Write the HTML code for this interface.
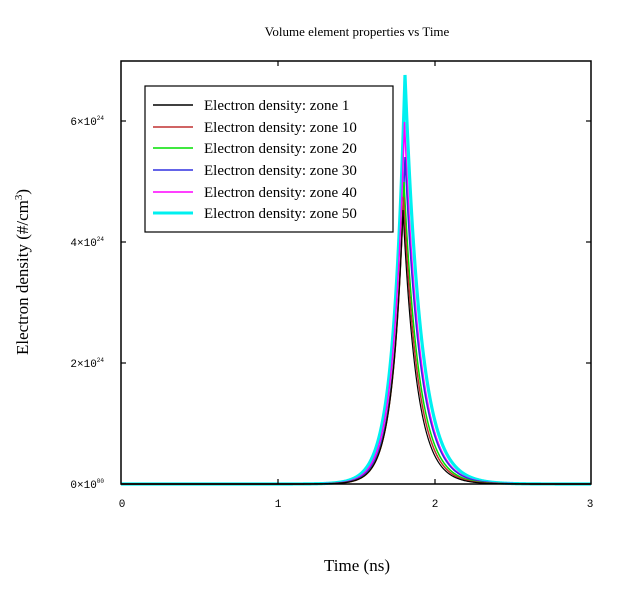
<!DOCTYPE html>
<html><head><style>
body{margin:0;background:#fff;}
svg{display:block;}
.t{font-family:"Liberation Serif",serif;}
.m{font-family:"Liberation Mono",monospace;font-size:11px;}
</style></head><body>
<svg id="s" width="644" height="599" xmlns="http://www.w3.org/2000/svg">
<rect width="644" height="599" fill="#fff"/>
<text class="t" x="357" y="36" font-size="13" text-anchor="middle">Volume element properties vs Time</text>
<text class="t" x="357" y="571" font-size="17" text-anchor="middle">Time (ns)</text>
<text class="t" font-size="17" text-anchor="middle" transform="translate(28,272) rotate(-90)">Electron density (#/cm<tspan dy="-6" font-size="11">3</tspan><tspan dy="6">)</tspan></text>
<g id="curves"></g>
<rect x="121" y="61" width="470" height="423" fill="none" stroke="#000" stroke-width="1.5"/>
<g stroke="#000" stroke-width="1.2">
<line x1="278" y1="484" x2="278" y2="479"/><line x1="435" y1="484" x2="435" y2="479"/>
<line x1="278" y1="61" x2="278" y2="66"/><line x1="435" y1="61" x2="435" y2="66"/>
<line x1="121" y1="363" x2="126" y2="363"/><line x1="121" y1="242" x2="126" y2="242"/><line x1="121" y1="121" x2="126" y2="121"/>
<line x1="591" y1="363" x2="586" y2="363"/><line x1="591" y1="242" x2="586" y2="242"/><line x1="591" y1="121" x2="586" y2="121"/>
</g>
<g class="m" text-anchor="middle">
<text x="122" y="507">0</text><text x="278" y="507">1</text><text x="435" y="507">2</text><text x="590" y="507">3</text>
</g>
<g class="m" text-anchor="end">
<text x="104" y="488">0×10<tspan font-size="6" dy="-5">00</tspan></text>
<text x="104" y="367">2×10<tspan font-size="6" dy="-5">24</tspan></text>
<text x="104" y="246">4×10<tspan font-size="6" dy="-5">24</tspan></text>
<text x="104" y="125">6×10<tspan font-size="6" dy="-5">24</tspan></text>
</g>
<rect x="145" y="86" width="248" height="146" fill="#fff" stroke="#000" stroke-width="1.2"/>
<g stroke-width="1.5">
<line x1="153" y1="105" x2="193" y2="105" stroke="#000"/>
<line x1="153" y1="127" x2="193" y2="127" stroke="#c03030"/>
<line x1="153" y1="148" x2="193" y2="148" stroke="#00e000"/>
<line x1="153" y1="170" x2="193" y2="170" stroke="#3030e0"/>
<line x1="153" y1="192" x2="193" y2="192" stroke="#ff00ff"/>
<line x1="153" y1="213" x2="193" y2="213" stroke="#00f0f0" stroke-width="3"/>
</g>
<g class="t" font-size="15">
<text x="204" y="110">Electron density: zone 1</text>
<text x="204" y="132">Electron density: zone 10</text>
<text x="204" y="153">Electron density: zone 20</text>
<text x="204" y="175">Electron density: zone 30</text>
<text x="204" y="197">Electron density: zone 40</text>
<text x="204" y="218">Electron density: zone 50</text>
</g>
</svg>
<script>
var ser=[["#00f0f0",75,405,3.2,12,16],["#ff00ff",122,404.5,1.5,11.5,15.5],["#3030e0",157,405,1.5,11.5,15.5],["#00e000",182,404,1.5,11,15],["#c03030",197,403.5,1.5,11,14.5],["#000",210,403,1.2,11,14]];
var g=document.getElementById('curves'),h='';
ser.forEach(function(s){var A=484-s[1],xp=s[2],d='';
for(var x=121;x<=591;x+=0.5){var dx=x-xp,w=dx<0?s[4]:s[5];var f=A*Math.exp(-Math.abs(dx)/w);var y=484-f;d+=(d?'L':'M')+x+' '+y.toFixed(2);}
h+='<path d="'+d+'" fill="none" stroke="'+s[0]+'" stroke-width="'+s[3]+'"/>';});
g.innerHTML=h;
</script>
</body></html>
